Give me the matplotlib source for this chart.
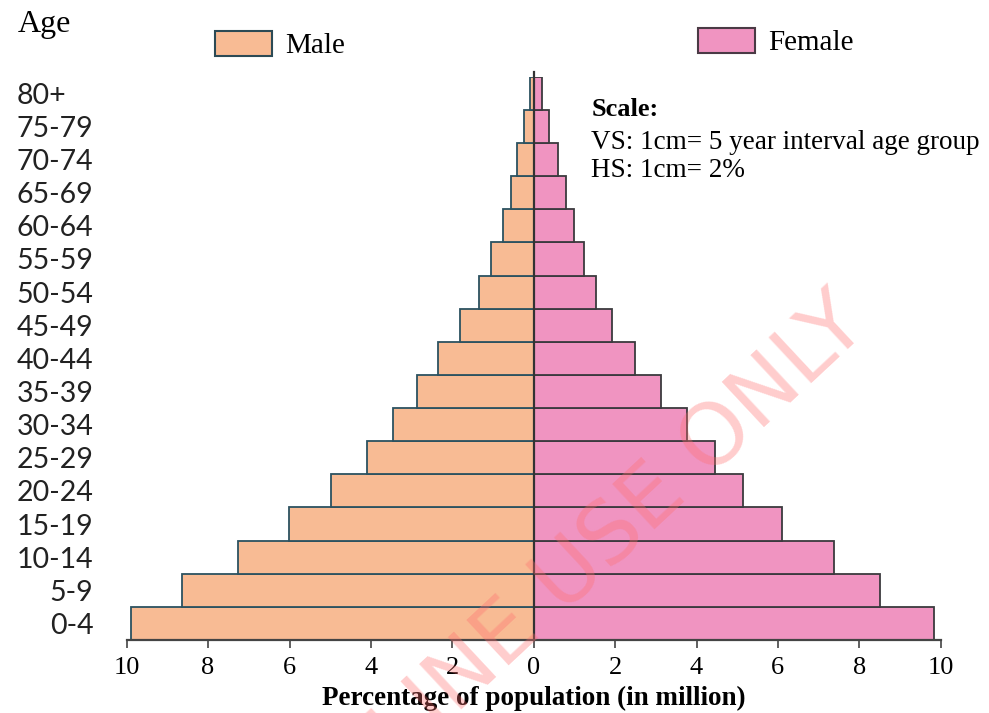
import matplotlib
matplotlib.use("Agg")
import matplotlib.pyplot as plt
import matplotlib.transforms as mtransforms
import numpy as np

age_groups = ['0-4', '5-9', '10-14', '15-19', '20-24', '25-29', '30-34', '35-39',
              '40-44', '45-49', '50-54', '55-59', '60-64', '65-69', '70-74', '75-79', '80+']
male = [9.9, 8.63, 7.26, 6.01, 4.98, 4.1, 3.45, 2.87, 2.34, 1.8, 1.35, 1.05, 0.76, 0.57, 0.4, 0.24, 0.1]
female = [9.83, 8.52, 7.37, 6.11, 5.14, 4.46, 3.77, 3.12, 2.49, 1.92, 1.52, 1.23, 1.0, 0.79, 0.59, 0.37, 0.21]
x_ticks = [-10, -8, -6, -4, -2, 0, 2, 4, 6, 8, 10]

male_col = '#f8bb94'
female_col = '#f094c1'

fig = plt.figure(figsize=(9.89, 7.13), dpi=100)
ax = fig.add_axes([0.1281, 0.1024, 0.8231, 0.79])

y = np.arange(len(age_groups))
ax.barh(y, [-m for m in male], height=1.0, color=male_col, edgecolor='#2c5260', linewidth=1.3)
ax.barh(y, female, height=1.0, color=female_col, edgecolor='#3b3a3e', linewidth=1.3)
ax.axvline(0, ymin=0, ymax=1.008, color='#333333', linewidth=1.6, clip_on=False)

ax.set_xlim(-10, 10)
ax.set_ylim(-0.5, 16.5)
for s in ['top', 'right', 'left']:
    ax.spines[s].set_visible(False)
ax.spines['bottom'].set_color('#444444')
ax.spines['bottom'].set_linewidth(1.6)

ax.set_xticks(x_ticks)
ax.set_xticklabels([str(abs(t)) for t in x_ticks], family='Liberation Serif', fontsize=19)
ax.tick_params(axis='x', direction='out', length=6, width=1.2, color='#444444', pad=6)

ax.set_yticks(y)
ax.set_yticklabels(age_groups, family='Lato', fontsize=20.5, color='#222222')
ax.tick_params(axis='y', length=0, pad=24)
# top label sits flush left with the longer ones
top_lab = ax.get_yticklabels()[-1]
top_lab.set_transform(top_lab.get_transform() +
                      mtransforms.ScaledTranslation(-27 / 100, 0, fig.dpi_scale_trans))

ax.set_xlabel('Percentage of population (in million)', family='Liberation Serif',
              fontweight='bold', fontsize=19.5, labelpad=5)

fig.text(0.018, 0.966, 'Age', family='Liberation Serif', fontsize=23, va='center', ha='left')

# scale note
fig.text(0.598, 0.846, 'Scale:', family='Liberation Serif', fontweight='bold', fontsize=19, va='center')
fig.text(0.598, 0.800, 'VS: 1cm= 5 year interval age group', family='Liberation Serif', fontsize=19.5, va='center')
fig.text(0.598, 0.761, 'HS: 1cm= 2%', family='Liberation Serif', fontsize=19.5, va='center')

# two separate legend entries
h_m = plt.Rectangle((0, 0), 1, 1, facecolor=male_col, edgecolor='#2c4a55', linewidth=1.5)
h_f = plt.Rectangle((0, 0), 1, 1, facecolor=female_col, edgecolor='#4a3a45', linewidth=1.5)
leg_kw = dict(frameon=False, handlelength=1.95, handleheight=0.95, handletextpad=0.45,
              borderpad=0, prop={'family': 'Liberation Serif', 'size': 21})
fig.legend([h_m], ['Male'], loc='center left', bbox_to_anchor=(0.203, 0.937), **leg_kw)
fig.legend([h_f], ['Female'], loc='center left', bbox_to_anchor=(0.691, 0.941), **leg_kw)

# watermark
fig.text(0.578, 0.195, 'ONLINE USE ONLY', family='DejaVu Sans', fontsize=62, color='#ff6f6f',
         alpha=0.35, rotation=43, ha='center', va='center')

fig.savefig('out.png', dpi=100)
